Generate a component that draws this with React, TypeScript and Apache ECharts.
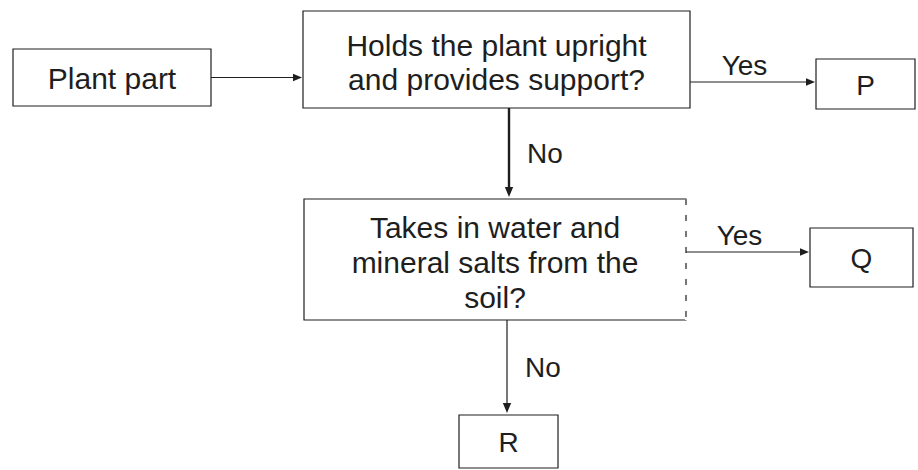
import React, { useEffect, useRef } from "react";
import * as echarts from "echarts";

// Flowchart content
const nodeIds = ["start", "q1", "p", "q2", "q", "r"];
const nodeLabels = [
  "Plant part",
  "Holds the plant upright\nand provides support?",
  "P",
  "Takes in water and\nmineral salts from the\nsoil?",
  "Q",
  "R",
];
const edgeFrom = ["start", "q1", "q1", "q2", "q2"];
const edgeTo = ["q1", "p", "q2", "q", "r"];
const edgeLabels = ["", "Yes", "No", "Yes", "No"];

// layout (pixels): x, y, w, h
const nodeBoxes: Record<string, [number, number, number, number]> = {
  start: [13, 49, 198, 57],
  q1: [303, 11, 387, 97],
  p: [816, 59, 99, 50],
  q2: [304, 199, 382, 121],
  q: [810, 228, 103, 59],
  r: [459, 415, 99, 53],
};

const INK = "#1e1e1e";
const FONT = "'Liberation Sans', Arial, sans-serif";

function arrowHead(x: number, y: number, dir: "right" | "down", size = 9) {
  const pts =
    dir === "right"
      ? [[x, y], [x - size, y - size / 2.4], [x - size, y + size / 2.4]]
      : [[x, y], [x - size / 2.4, y - size], [x + size / 2.4, y - size]];
  return { type: "polygon", shape: { points: pts }, style: { fill: INK }, silent: true };
}

export default function App() {
  const ref = useRef<HTMLDivElement>(null);
  useEffect(() => {
    if (!ref.current) return;
    const chart = echarts.init(ref.current, undefined, { renderer: "svg" });
    const els: any[] = [];
    const box = (id: string) => nodeBoxes[id];

    nodeIds.forEach((id, i) => {
      const [x, y, w, h] = box(id);
      const dashedRight = id === "q2";
      els.push({
        type: "rect",
        shape: { x, y, width: w, height: h },
        style: { fill: "#fff", stroke: INK, lineWidth: 1.2 },
      });
      if (dashedRight) {
        els.push({
          type: "line",
          shape: { x1: x + w, y1: y, x2: x + w, y2: y + h },
          style: { stroke: "#fff", lineWidth: 2 },
        });
        els.push({
          type: "line",
          shape: { x1: x + w, y1: y, x2: x + w, y2: y + h },
          style: { stroke: INK, lineWidth: 1.2, lineDash: [6, 10] },
        });
      }
      const lines = nodeLabels[i].split("\n").length;
      els.push({
        type: "text",
        x: x + w / 2,
        y: y + h / 2 + (lines === 3 ? 3 : lines === 2 ? 3 : 1),
        style: {
          text: nodeLabels[i],
          fill: INK,
          fontSize: lines === 1 && w < 120 ? 28 : 30,
          fontFamily: FONT,
          align: "center",
          verticalAlign: "middle",
          lineHeight: lines === 3 ? 35 : 34,
        },
      });
    });

    edgeFrom.forEach((from, i) => {
      const to = edgeTo[i];
      const [fx, fy, fw, fh] = box(from);
      const [tx, ty] = box(to);
      const label = edgeLabels[i];
      if (tx > fx + fw) {
        const yy =
          from === "start" ? fy + fh / 2 : from === "q1" ? fy + 71 : fy + 53;
        const x1 = fx + fw;
        const x2 = tx - 1;
        els.push({
          type: "line",
          shape: { x1, y1: yy, x2: x2 - 6, y2: yy },
          style: { stroke: INK, lineWidth: 1.2 },
        });
        els.push(arrowHead(x2, yy, "right"));
        if (label) {
          els.push({
            type: "text",
            x: (x1 + x2) / 2 - 8,
            y: yy - 17,
            style: { text: label, fill: INK, fontSize: 28, fontFamily: FONT, align: "center", verticalAlign: "middle" },
          });
        }
      } else {
        const xx = from === "q1" ? 509 : 507;
        const y1 = fy + fh;
        const y2 = ty - 2;
        const lw = from === "q1" ? 2.4 : 1.2;
        els.push({
          type: "line",
          shape: { x1: xx, y1, x2: xx, y2: y2 - 6 },
          style: { stroke: INK, lineWidth: lw },
        });
        els.push(arrowHead(xx, y2, "down", 10));
        if (label) {
          els.push({
            type: "text",
            x: xx + 18,
            y: (y1 + y2) / 2 + 1,
            style: { text: label, fill: INK, fontSize: 28, fontFamily: FONT, align: "left", verticalAlign: "middle" },
          });
        }
      }
    });

    chart.setOption({
      animation: false,
      backgroundColor: "#ffffff",
      graphic: { elements: els },
    });
    return () => chart.dispose();
  }, []);
  return (
    <div
      ref={ref}
      style={{ position: "absolute", left: 0, top: 0, width: 918, height: 470 }}
    />
  );
}
